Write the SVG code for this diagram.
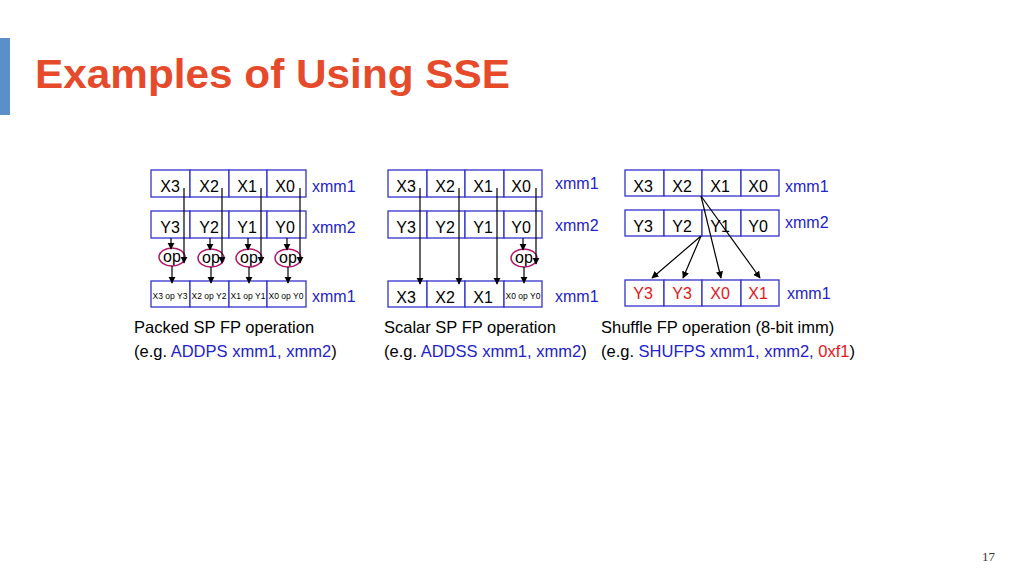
<svg xmlns="http://www.w3.org/2000/svg" width="1024" height="576" viewBox="0 0 1024 576">
<style>
.c{fill:#fff;stroke:#3333cc;stroke-width:1.3}
.t{font-family:"Liberation Sans",Arial,sans-serif;font-size:16px;fill:#000;text-anchor:middle}
.s{font-family:"Liberation Sans",Arial,sans-serif;font-size:8.5px;fill:#000;text-anchor:middle}
.l{font-family:"Liberation Sans",Arial,sans-serif;font-size:16px;fill:#2222cc}
.cap{font-family:"Liberation Sans",Arial,sans-serif;font-size:16.5px;fill:#000}
.b{fill:#2222cc}
.rr{fill:#e8141a}
.a{stroke:#000;stroke-width:1.2;fill:none;marker-end:url(#ah)}
.op{fill:#fff;stroke:#b0176a;stroke-width:1.5}
</style>
<defs><marker id="ah" viewBox="0 0 10 10" refX="9" refY="5" markerWidth="6" markerHeight="6" orient="auto"><path d="M0,0L10,5L0,10z" fill="#000"/></marker></defs>
<rect x="0" y="38" width="10" height="77" fill="#5b8fc9"/>
<text x="35" y="88" font-family="Liberation Sans,Arial,sans-serif" font-size="41" font-weight="bold" fill="#e54b2b" textLength="475" lengthAdjust="spacingAndGlyphs">Examples of Using SSE</text>
<text x="982" y="561" font-family="Liberation Serif,serif" font-size="13" fill="#333">17</text>

<g id="packed">
<rect class="c" x="151" y="170" width="39" height="27"/><rect class="c" x="190" y="170" width="39" height="27"/><rect class="c" x="229" y="170" width="38" height="27"/><rect class="c" x="267" y="170" width="39" height="27"/>
<text class="t" x="170" y="192">X3</text><text class="t" x="209" y="192">X2</text><text class="t" x="247" y="192">X1</text><text class="t" x="285" y="192">X0</text>
<text class="l" x="312" y="192">xmm1</text>
<rect class="c" x="151" y="211" width="39" height="27"/><rect class="c" x="190" y="211" width="39" height="27"/><rect class="c" x="229" y="211" width="38" height="27"/><rect class="c" x="267" y="211" width="39" height="27"/>
<text class="t" x="170" y="233">Y3</text><text class="t" x="209" y="233">Y2</text><text class="t" x="247" y="233">Y1</text><text class="t" x="285" y="233">Y0</text>
<text class="l" x="312" y="233">xmm2</text>
<ellipse class="op" cx="172" cy="257" rx="13" ry="9"/><ellipse class="op" cx="211" cy="258" rx="13" ry="9"/><ellipse class="op" cx="249" cy="258" rx="13" ry="9"/><ellipse class="op" cx="288" cy="258" rx="13" ry="9"/>
<text class="t" x="172" y="262" font-size="14">op</text><text class="t" x="211" y="263" font-size="14">op</text><text class="t" x="249" y="263" font-size="14">op</text><text class="t" x="288" y="263" font-size="14">op</text>
<rect class="c" x="151" y="281" width="39" height="26"/><rect class="c" x="190" y="281" width="39" height="26"/><rect class="c" x="229" y="281" width="38" height="26"/><rect class="c" x="267" y="281" width="39" height="26"/>
<text class="s" x="170" y="299">X3 op Y3</text><text class="s" x="209" y="299">X2 op Y2</text><text class="s" x="248" y="299">X1 op Y1</text><text class="s" x="286" y="299">X0 op Y0</text>
<text class="l" x="312" y="302">xmm1</text>
<text class="cap" x="134" y="333">Packed SP FP operation</text>
<text class="cap" x="134" y="357">(e.g. <tspan class="b">ADDPS xmm1, xmm2</tspan>)</text>
</g>

<g id="scalar">
<rect class="c" x="388" y="170" width="39" height="27"/><rect class="c" x="427" y="170" width="38" height="27"/><rect class="c" x="465" y="170" width="39" height="27"/><rect class="c" x="504" y="170" width="38" height="27"/>
<text class="t" x="406" y="192">X3</text><text class="t" x="445" y="192">X2</text><text class="t" x="483" y="192">X1</text><text class="t" x="521" y="192">X0</text>
<text class="l" x="555" y="189">xmm1</text>
<rect class="c" x="388" y="211" width="39" height="27"/><rect class="c" x="427" y="211" width="38" height="27"/><rect class="c" x="465" y="211" width="39" height="27"/><rect class="c" x="504" y="211" width="38" height="27"/>
<text class="t" x="406" y="233">Y3</text><text class="t" x="445" y="233">Y2</text><text class="t" x="483" y="233">Y1</text><text class="t" x="521" y="233">Y0</text>
<text class="l" x="555" y="231">xmm2</text>
<ellipse class="op" cx="524" cy="258" rx="13" ry="9"/>
<text class="t" x="524" y="263" font-size="14">op</text>
<rect class="c" x="388" y="281" width="39" height="26"/><rect class="c" x="427" y="281" width="38" height="26"/><rect class="c" x="465" y="281" width="39" height="26"/><rect class="c" x="504" y="281" width="38" height="26"/>
<text class="t" x="406" y="303">X3</text><text class="t" x="445" y="303">X2</text><text class="t" x="483" y="303">X1</text><text class="s" x="523" y="299">X0 op Y0</text>
<text class="l" x="555" y="302">xmm1</text>
<text class="cap" x="384" y="333">Scalar SP FP operation</text>
<text class="cap" x="384" y="357">(e.g. <tspan class="b">ADDSS xmm1, xmm2</tspan>)</text>
</g>

<g id="shuffle">
<rect class="c" x="625" y="170" width="39" height="26"/><rect class="c" x="664" y="170" width="38" height="26"/><rect class="c" x="702" y="170" width="39" height="26"/><rect class="c" x="741" y="170" width="38" height="26"/>
<text class="t" x="643" y="192">X3</text><text class="t" x="682" y="192">X2</text><text class="t" x="720" y="192">X1</text><text class="t" x="758" y="192">X0</text>
<text class="l" x="785" y="192">xmm1</text>
<rect class="c" x="625" y="210" width="39" height="26"/><rect class="c" x="664" y="210" width="38" height="26"/><rect class="c" x="702" y="210" width="39" height="26"/><rect class="c" x="741" y="210" width="38" height="26"/>
<text class="t" x="643" y="232">Y3</text><text class="t" x="682" y="232">Y2</text><text class="t" x="720" y="232">Y1</text><text class="t" x="758" y="232">Y0</text>
<text class="l" x="785" y="228">xmm2</text>
<rect class="c" x="625" y="280" width="39" height="26"/><rect class="c" x="664" y="280" width="38" height="26"/><rect class="c" x="702" y="280" width="39" height="26"/><rect class="c" x="741" y="280" width="38" height="26"/>
<text class="t rr" x="643" y="299">Y3</text><text class="t rr" x="682" y="299">Y3</text><text class="t rr" x="720" y="299">X0</text><text class="t rr" x="758" y="299">X1</text>
<text class="l" x="787" y="299">xmm1</text>
<text class="cap" x="601" y="333">Shuffle FP operation (8-bit imm)</text>
<text class="cap" x="601" y="357">(e.g. <tspan class="b">SHUFPS xmm1, xmm2, </tspan><tspan class="rr">0xf1</tspan>)</text>
</g>

<g id="connectors">
<path class="a" d="M184,188V263"/><path class="a" d="M222,188V263"/><path class="a" d="M261,188V263"/><path class="a" d="M300,188V263"/>
<path class="a" d="M171,238V249"/><path class="a" d="M210,238V250"/><path class="a" d="M248,238V250"/><path class="a" d="M287,238V250"/>
<path class="a" d="M172,266V283"/><path class="a" d="M211,267V283"/><path class="a" d="M249,267V283"/><path class="a" d="M288,267V283"/>
<path class="a" d="M420,188V284"/><path class="a" d="M459,188V284"/><path class="a" d="M497,188V284"/><path class="a" d="M536,188V264"/>
<path class="a" d="M523,238V250"/><path class="a" d="M524,267V283"/>
<path class="a" d="M701,196L721,278"/><path class="a" d="M701,196L760,278"/>
<path class="a" d="M701,236L652,278"/><path class="a" d="M701,236L683,278"/>
</g>
</svg>
